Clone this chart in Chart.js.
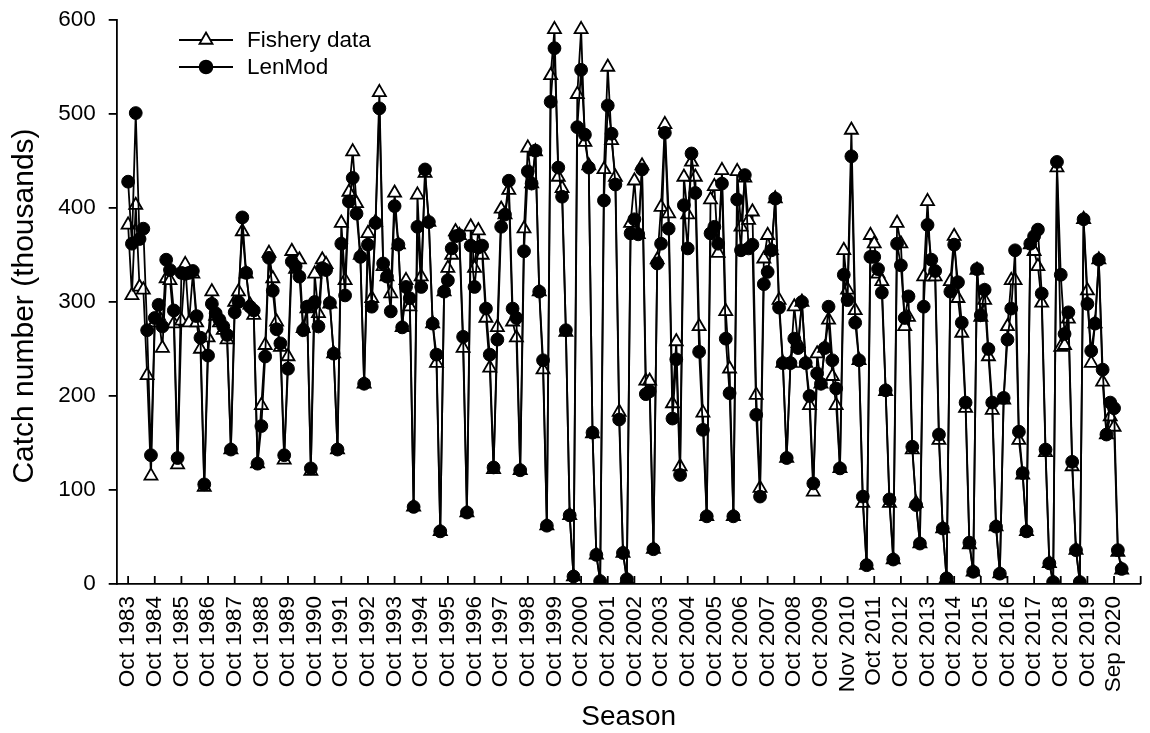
<!DOCTYPE html>
<html>
<head>
<meta charset="utf-8">
<script src="https://cdn.jsdelivr.net/npm/chart.js@4"></script>
<style>
  body { margin: 0; background: #fff; }
  #wrap { width: 1150px; height: 733px; }
</style>
</head>
<body>
<div id="wrap"><canvas id="myChart"></canvas></div>
<script>
// one label every 7 points (last tick has no label)
var seasonLabels = ["Oct 1983","Oct 1984","Oct 1985","Oct 1986","Oct 1987","Oct 1988","Oct 1989",
  "Oct 1990","Oct 1991","Oct 1992","Oct 1993","Oct 1994","Oct 1995","Oct 1996","Oct 1997",
  "Oct 1998","Oct 1999","Oct 2000","Oct 2001","Oct 2002","Oct 2003","Oct 2004","Oct 2005",
  "Oct 2006","Oct 2007","Oct 2008","Oct 2009","Nov 2010","Oct 2011","Oct 2012","Oct 2013",
  "Oct 2014","Oct 2015","Oct 2016","Oct 2017","Oct 2018","Oct 2019","Sep 2020"]
var labelStep = 7

// Fishery data (thousands)
var fisheryData = [
  382, 307, 403, 316, 313, 222, 115,
  278, 285, 251, 325, 323, 277, 127,
  280, 340, 278, 330, 278, 250, 103,
  262, 311, 285, 278, 270, 260, 143,
  300, 311, 375, 330, 297, 286, 128,
  190, 254, 352, 325, 279, 252, 132,
  242, 354, 335, 345, 272, 293, 120,
  330, 288, 345, 340, 298, 245, 143,
  384, 323, 417, 460, 405, 350, 213,
  373, 304, 385, 523, 338, 327, 309,
  416, 361, 273, 323, 295, 82, 414,
  327, 437, 385, 277, 235, 56, 311,
  336, 350, 375, 371, 251, 76, 380,
  336, 376, 350, 283, 230, 122, 273,
  399, 393, 419, 279, 262, 121, 378,
  464, 426, 460, 311, 228, 62, 541,
  590, 433, 421, 268, 73, 8, 521,
  590, 470, 445, 160, 31, 3, 441,
  550, 472, 433, 183, 33, 5, 384,
  429, 372, 445, 216, 216, 37, 345,
  401, 489, 394, 192, 258, 125, 433,
  393, 449, 433, 274, 182, 72, 409,
  423, 352, 440, 290, 229, 72, 439,
  380, 432, 387, 396, 201, 102, 346,
  371, 355, 410, 302, 235, 134, 235,
  295, 256, 300, 235, 190, 98, 245,
  213, 251, 281, 221, 190, 123, 355,
  313, 483, 291, 238, 86, 20, 371,
  362, 330, 322, 205, 86, 26, 384,
  362, 274, 284, 143, 86, 43, 327,
  407, 327, 327, 153, 59, 6, 322,
  370, 304, 267, 187, 42, 13, 334,
  284, 302, 242, 185, 61, 11, 196,
  274, 323, 323, 153, 116, 56, 361,
  354, 338, 299, 140, 22, 2, 443,
  252, 254, 282, 125, 36, 2, 388,
  312, 235, 277, 345, 215, 159, 178,
  167, 34, 15]

// LenMod estimates (thousands)
var lenModData = [
  428, 362, 501, 367, 378, 270, 137,
  283, 297, 274, 345, 334, 291, 134,
  331, 330, 331, 333, 285, 262, 106,
  243, 298, 288, 281, 274, 265, 143,
  289, 300, 390, 331, 295, 291, 128,
  168, 242, 347, 312, 271, 256, 137,
  229, 343, 338, 327, 270, 295, 123,
  300, 274, 336, 334, 299, 245, 143,
  362, 307, 407, 432, 394, 348, 213,
  361, 295, 384, 506, 341, 327, 290,
  402, 361, 273, 316, 304, 82, 380,
  316, 441, 385, 277, 244, 56, 311,
  323, 357, 370, 371, 263, 76, 360,
  316, 358, 360, 293, 244, 124, 260,
  380, 393, 429, 293, 283, 121, 354,
  439, 426, 461, 311, 238, 62, 513,
  570, 443, 412, 270, 73, 8, 486,
  547, 478, 443, 161, 31, 3, 408,
  509, 479, 425, 175, 33, 5, 373,
  388, 372, 441, 202, 205, 37, 341,
  362, 480, 378, 176, 239, 116, 403,
  357, 458, 416, 247, 164, 72, 373,
  380, 362, 426, 261, 203, 72, 409,
  355, 435, 357, 361, 180, 93, 319,
  332, 355, 410, 294, 235, 134, 235,
  261, 251, 300, 235, 200, 107, 224,
  213, 251, 295, 238, 208, 123, 329,
  302, 455, 278, 238, 93, 20, 348,
  348, 335, 310, 206, 90, 26, 362,
  339, 283, 306, 146, 84, 43, 295,
  382, 345, 333, 159, 59, 6, 311,
  361, 321, 278, 193, 44, 13, 335,
  286, 313, 250, 193, 61, 11, 198,
  260, 293, 355, 162, 118, 56, 362,
  370, 377, 309, 143, 22, 2, 449,
  329, 266, 289, 130, 36, 2, 388,
  298, 248, 277, 345, 228, 159, 193,
  187, 36, 16]

var yTicks = [0, 100, 200, 300, 400, 500, 600]

var fontFamily = '"Liberation Sans", Arial, sans-serif'
Chart.defaults.font.family = fontFamily
Chart.defaults.color = '#000'

var pointIndex = fisheryData.map((v, i) => i)

var lineW = 1.8
var fisheryStyle = { pointStyle: 'triangle', radius: 7.5, backgroundColor: '#fff' }
var lenModStyle = { pointStyle: 'circle', radius: 6.4, backgroundColor: '#000' }

// inward x ticks, axis titles and the legend
var decorations = {
  id: 'decorations',
  afterDraw(chart) {
    const ctx = chart.ctx
    const xs = chart.scales.x
    const area = chart.chartArea
    ctx.save()
    ctx.strokeStyle = '#000'
    ctx.lineWidth = lineW
    xs.ticks.forEach(t => {
      const px = xs.getPixelForValue(t.value)
      ctx.beginPath()
      ctx.moveTo(px, area.bottom)
      ctx.lineTo(px, area.bottom - 8)
      ctx.stroke()
    })

    ctx.fillStyle = '#000'
    ctx.font = '28px ' + fontFamily
    ctx.textAlign = 'center'
    ctx.textBaseline = 'alphabetic'
    ctx.fillText('Season', (area.left + area.right) / 2, 725)
    ctx.save()
    ctx.font = '30px ' + fontFamily
    ctx.translate(33, (area.top + area.bottom) / 2 + 4)
    ctx.rotate(-Math.PI / 2)
    ctx.fillText('Catch number (thousands)', 0, 0)
    ctx.restore()

    // legend
    const rows = [
      { text: 'Fishery data', style: fisheryStyle, y: 40 },
      { text: 'LenMod', style: lenModStyle, y: 67 }
    ]
    ctx.font = '22.5px ' + fontFamily
    ctx.textAlign = 'left'
    ctx.textBaseline = 'middle'
    rows.forEach(r => {
      ctx.strokeStyle = '#000'
      ctx.lineWidth = lineW
      ctx.beginPath()
      ctx.moveTo(179, r.y)
      ctx.lineTo(233, r.y)
      ctx.stroke()
      ctx.fillStyle = r.style.backgroundColor
      Chart.helpers.drawPoint(ctx, { pointStyle: r.style.pointStyle, radius: r.style.radius, rotation: 0, borderWidth: lineW }, 206, r.y)
      ctx.fillStyle = '#000'
      ctx.fillText(r.text, 247, r.y + 1)
    })
    ctx.restore()
  }
}

new Chart("myChart", {
  type: "line",
  data: {
    labels: pointIndex,
    datasets: [{
      label: 'Fishery data',
      data: fisheryData,
      order: 2,
      borderColor: '#000',
      borderWidth: lineW,
      pointStyle: fisheryStyle.pointStyle,
      pointRadius: fisheryStyle.radius,
      pointBackgroundColor: fisheryStyle.backgroundColor,
      pointBorderColor: '#000',
      pointBorderWidth: lineW,
      tension: 0
    }, {
      label: 'LenMod',
      data: lenModData,
      order: 1,
      borderColor: '#000',
      borderWidth: lineW,
      pointStyle: lenModStyle.pointStyle,
      pointRadius: lenModStyle.radius,
      pointBackgroundColor: lenModStyle.backgroundColor,
      pointBorderColor: '#000',
      pointBorderWidth: 1,
      tension: 0
    }]
  },
  options: {
    responsive: true,
    maintainAspectRatio: false,
    animation: false,
    layout: { padding: { left: 0, right: 2.5, top: 20, bottom: 0 } },
    plugins: {
      legend: { display: false },
      tooltip: { enabled: false }
    },
    scales: {
      x: {
        type: 'linear',
        min: -3,
        max: labelStep * seasonLabels.length,
        afterBuildTicks: (scale) => {
          scale.ticks = []
          for (let k = 0; k <= seasonLabels.length; k++) scale.ticks.push({ value: k * labelStep })
        },
        afterFit: (scale) => {
          scale.height = 149
          scale.paddingLeft = 0
          scale.paddingRight = 0
        },
        grid: { display: false, drawTicks: false },
        border: { display: true, color: '#000', width: lineW },
        ticks: {
          autoSkip: false,
          maxRotation: 90,
          minRotation: 90,
          padding: 12,
          font: { size: 22.5 },
          callback: (value) => seasonLabels[value / labelStep] || ''
        }
      },
      y: {
        min: 0,
        max: 600,
        afterBuildTicks: (scale) => { scale.ticks = yTicks.map(v => ({ value: v })) },
        afterFit: (scale) => {
          scale.width = 116.7
          scale.paddingTop = 0
          scale.paddingBottom = 0
        },
        grid: { drawOnChartArea: false, tickLength: 8, color: '#000', lineWidth: lineW },
        border: { display: true, color: '#000', width: lineW },
        ticks: { padding: 13, font: { size: 22.5 } }
      }
    }
  },
  plugins: [decorations]
});
</script>
</body>
</html>
